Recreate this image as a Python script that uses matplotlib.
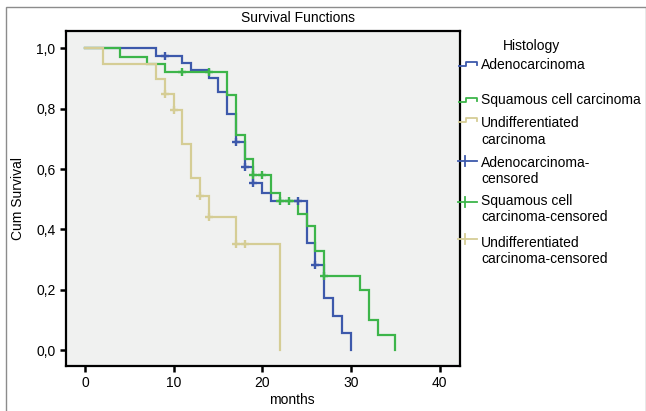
import matplotlib
matplotlib.use('Agg')
import matplotlib.pyplot as plt
from matplotlib.lines import Line2D
from matplotlib.patches import Rectangle

plt.rcParams['font.family'] = ['Liberation Sans', 'DejaVu Sans']
plt.rcParams['font.size'] = 10

# Kaplan-Meier steps (months, cumulative survival)
adeno_t = [0, 8, 11, 12, 14, 15, 16, 17, 18, 19, 20, 21, 25, 26, 27, 28, 29, 30]
adeno_s = [1.0, 0.975, 0.951, 0.927, 0.903, 0.856, 0.783, 0.691, 0.608, 0.555,
           0.522, 0.493, 0.354, 0.282, 0.172, 0.115, 0.058, 0.0]
adeno_cens_t = [9, 17, 18, 19, 24, 26]
adeno_cens_s = [0.975, 0.691, 0.608, 0.555, 0.493, 0.282]

squam_t = [0, 4, 7, 9, 16, 17, 18, 19, 21, 22, 24, 25, 26, 27, 31, 32, 33, 35]
squam_s = [1.0, 0.971, 0.949, 0.922, 0.844, 0.713, 0.633, 0.581, 0.522, 0.493,
           0.45, 0.41, 0.328, 0.245, 0.198, 0.10, 0.052, 0.0]
squam_cens_t = [11, 14, 19, 20, 22, 23, 27]
squam_cens_s = [0.922, 0.922, 0.581, 0.581, 0.493, 0.493, 0.245]

undiff_t = [0, 2, 8, 9, 10, 11, 12, 13, 14, 17, 22]
undiff_s = [1.0, 0.947, 0.898, 0.848, 0.795, 0.682, 0.570, 0.512, 0.44, 0.352, 0.0]
undiff_cens_t = [9, 10, 13, 14, 17, 18]
undiff_cens_s = [0.848, 0.795, 0.512, 0.44, 0.352, 0.352]

legend_labels = ['Adenocarcinoma', 'Squamous cell carcinoma',
                 'Undifferentiated\ncarcinoma', 'Adenocarcinoma-\ncensored',
                 'Squamous cell\ncarcinoma-censored',
                 'Undifferentiated\ncarcinoma-censored']

x_ticks = [0, 10, 20, 30, 40]
y_ticks = [0.0, 0.2, 0.4, 0.6, 0.8, 1.0]

blue = '#3d59ab'
green = '#3db54a'
khaki = '#d5cd95'

W, H = 646, 411
fig = plt.figure(figsize=(W / 100, H / 100), dpi=100)
fig.patch.set_facecolor('white')
ax = fig.add_axes([66 / W, 1 - 366 / H, (460 - 66) / W, (366 - 31) / H])
ax.set_facecolor('#f0f1f0')

for t, s, c in [(adeno_t, adeno_s, blue), (squam_t, squam_s, green),
                (undiff_t, undiff_s, khaki)]:
    ax.step(t, s, where='post', color=c, lw=1.6, solid_joinstyle='miter')
for t, s, c in [(adeno_cens_t, adeno_cens_s, blue), (squam_cens_t, squam_cens_s, green),
                (undiff_cens_t, undiff_cens_s, khaki)]:
    ax.plot(t, s, ls='none', marker='+', ms=6, mew=1.7, color=c)

ax.set_xlim(-2.14, 42.3)
ax.set_ylim(-0.052, 1.057)
ax.set_xticks(x_ticks)
ax.set_yticks(y_ticks)
ax.set_yticklabels([f'{v:.1f}'.replace('.', ',') for v in y_ticks])
for sp in ax.spines.values():
    sp.set_linewidth(1.6)
ax.tick_params(direction='out', length=4.5, width=1.8, pad=3, labelsize=10)

fig.text(298 / W, 1 - 18 / H, 'Survival Functions', ha='center', va='center', fontsize=10)
fig.text(292 / W, 1 - 400 / H, 'months', ha='center', va='center', fontsize=10)
fig.text(18 / W, 1 - 199 / H, 'Cum Survival', ha='center', va='center',
         rotation=90, fontsize=10)

# legend, drawn by hand to follow the SPSS layout
fig.text(532 / W, 1 - 46 / H, 'Histology', ha='center', va='center', fontsize=10)
text_y = [65, 100, 131.5, 171, 209, 251]
glyph_y = [64, 100.5, 120, 161.5, 202, 239]
colors = [blue, green, khaki, blue, green, khaki]
for i, lab in enumerate(legend_labels):
    fig.text(481 / W, 1 - text_y[i] / H, lab, ha='left', va='center',
             fontsize=10, linespacing=1.25)
    gy = glyph_y[i]
    if i < 3:
        xs = [459, 466, 466, 477, 477]
        ys = [gy + 2, gy + 2, gy - 2, gy - 2, gy + 1]
        fig.add_artist(Line2D([x / W for x in xs], [1 - y / H for y in ys],
                              color=colors[i], lw=1.3, transform=fig.transFigure))
    else:
        fig.add_artist(Line2D([458 / W, 477 / W], [1 - gy / H, 1 - gy / H],
                              color=colors[i], lw=1.3, transform=fig.transFigure))
        fig.add_artist(Line2D([465 / W, 465 / W], [1 - (gy - 5) / H, 1 - (gy + 5) / H],
                              color=colors[i], lw=1.3, transform=fig.transFigure))

fig.add_artist(Rectangle((6 / W, -0.01), (W - 6) / W, 1 - 7 / H + 0.01,
                         fill=False, ec='#8c8c8c', lw=1, transform=fig.transFigure))

fig.savefig('out.png', dpi=100)
